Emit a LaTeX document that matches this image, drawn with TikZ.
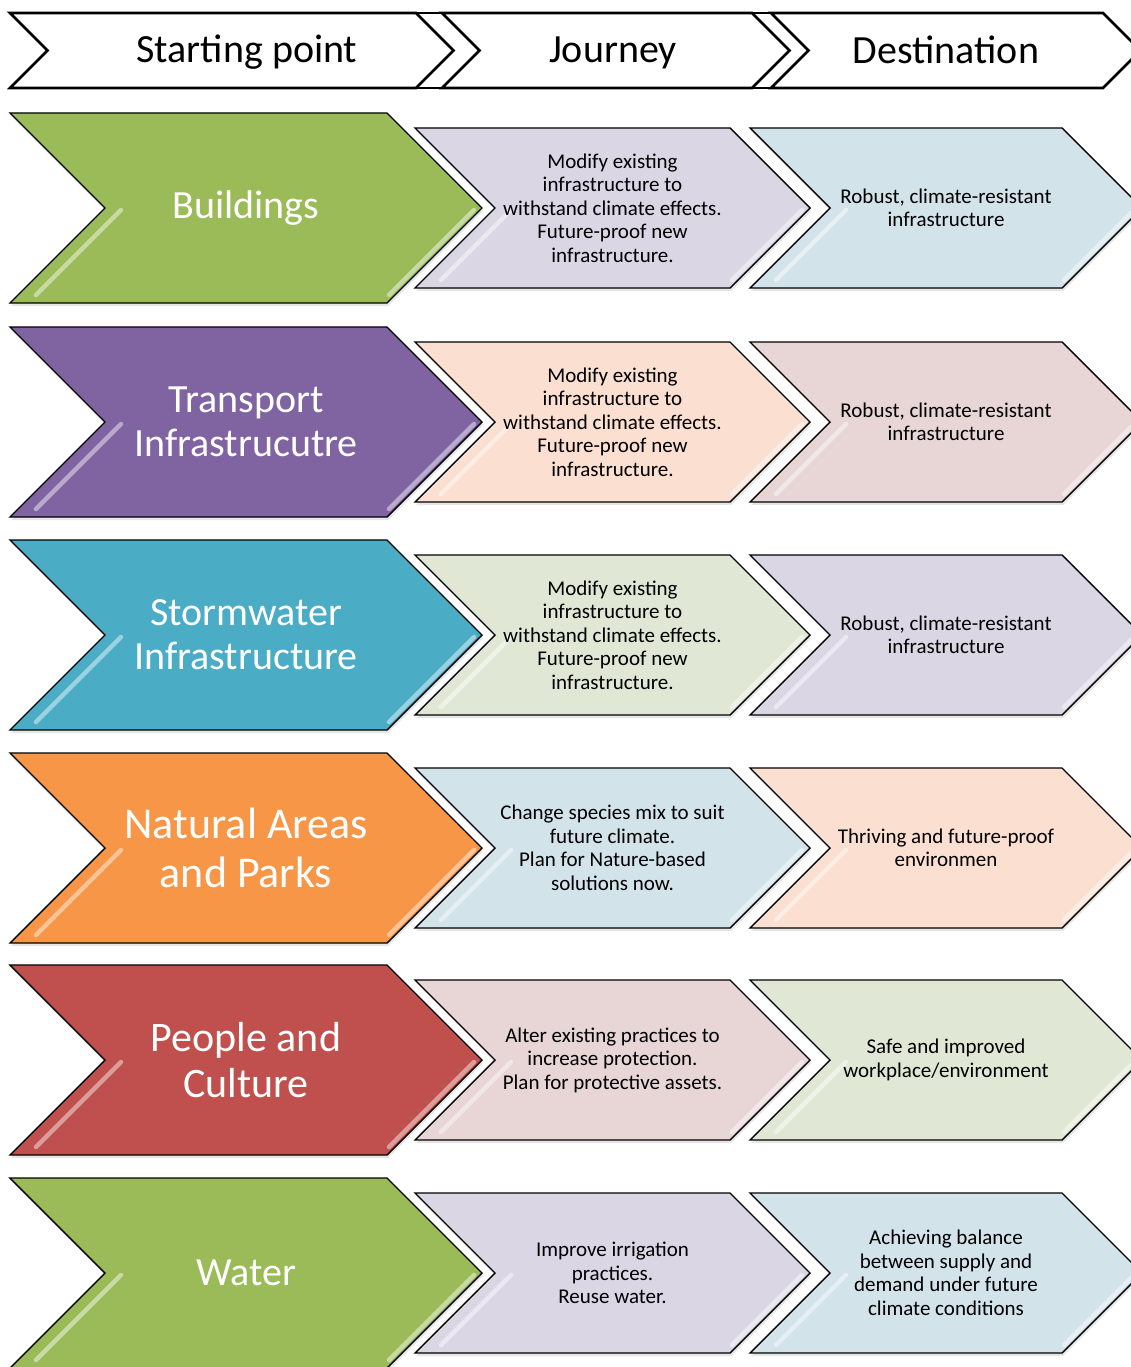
\documentclass[tikz,border=0pt]{standalone}
\usepackage{fontspec}
\setmainfont{Carlito}
\usepackage{xcolor}
\usepackage{tikz}
\usetikzlibrary{shadows}
\definecolor{leaf}{HTML}{9BBB59}
\definecolor{plum}{HTML}{8064A2}
\definecolor{aqua}{HTML}{4BACC6}
\definecolor{amber}{HTML}{F79646}
\definecolor{brick}{HTML}{C0504D}
\definecolor{lilac}{HTML}{DAD6E4}
\definecolor{sky}{HTML}{D3E3EA}
\definecolor{peach}{HTML}{FBDFD1}
\definecolor{rose}{HTML}{E8D5D6}
\definecolor{sage}{HTML}{E0E8D5}
\tikzset{
  head/.style={draw=black, line width=2.6pt, fill=white},
  chev/.style={
    draw=black, line width=1.4pt,
    drop shadow={opacity=0.2, shadow xshift=1pt, shadow yshift=-3pt}
  },
  gloss/.style={draw=white, line width=4.5pt, draw opacity=0.45, line cap=round},
  headtxt/.style={inner sep=0pt, anchor=base, font=\fontsize{40}{44}\selectfont},
  lbl/.style={inner sep=0pt, align=center, text=white,
    font=\fontsize{40}{44}\selectfont},
  txt/.style={inner sep=0pt, align=center, text=black,
    font=\fontsize{21}{23.5}\selectfont}
}
\newcommand{\Chevron}[6][]{%
  % #1 = style, #2 = name of the centre, #3 = left x, #4 = top y
  % #5 = width without the tip, #6 = height (the tip is half of it)
  \draw[#1] (#3,#4) -- ++(#5,0) -- ++(#6/2,#6/2) -- ++(-#6/2,#6/2)
    -- ++(-#5,0) -- ++(#6/2,-#6/2) -- cycle;
  \coordinate (#2) at (#3+#5/2+#6/4,#4+#6/2);
}
\newcommand{\Gloss}[4]{%
  % #1 = left x, #2 = top y, #3 = width without the tip, #4 = height
  \draw[gloss] (#1+#4/2+16,#2+#4/2+2) -- (#1+26,#2+#4-8);
  \draw[gloss] (#1+#3+#4/2-8,#2+#4/2+2) -- (#1+#3+2,#2+#4-8);
}
\newcommand{\Row}[9][]{%
  % #1 = extra label options, #2 = top y, #3 = row name
  % #4, #5, #6 = fills, #7, #8, #9 = texts
  \Chevron[chev,fill=#4]{#3-a}{10}{#2}{377}{190}
  \Chevron[chev,fill=#5]{#3-b}{415}{#2+15}{315}{160}
  \Chevron[chev,fill=#6]{#3-c}{750}{#2+15}{312}{160}
  \Gloss{10}{#2}{377}{190}
  \Gloss{415}{#2+15}{315}{160}
  \Gloss{750}{#2+15}{312}{160}
  \node[lbl,#1] (#3-start) at (#3-a) {#7};
  \node[txt] (#3-way) at (#3-b) {#8};
  \node[txt] (#3-dest) at (#3-c) {#9};
}

\begin{document}
\begin{tikzpicture}[x=1pt, y=-1pt, line join=miter]
  \useasboundingbox (0,0) rectangle (1131,1367);
  \clip (0,0) rectangle (1131,1367);

  % header
  \draw[head] (10,13) -- (1103,13) (10,88) -- (1103,88);
  \Chevron[head]{hs}{10}{13}{406}{75}
  \Chevron[head]{hj}{442}{13}{310}{75}
  \Chevron[head]{hd}{771}{13}{332}{75}
  \node[headtxt] (start) at (247,63) {Starting point};
  \node[headtxt] (journey) at (613,63) {Journey};
  \node[headtxt] (dest) at (946,64) {Destination};

  \Row{113}{bld}{leaf}{lilac}{sky}{Buildings}
    {Modify existing\\infrastructure to\\withstand climate effects.\\Future-proof new\\infrastructure.}
    {Robust, climate-resistant\\infrastructure}
  \Row{327}{trn}{plum}{peach}{rose}{Transport\\Infrastrucutre}
    {Modify existing\\infrastructure to\\withstand climate effects.\\Future-proof new\\infrastructure.}
    {Robust, climate-resistant\\infrastructure}
  \Row{540}{stw}{aqua}{sage}{lilac}{Stormwater\\Infrastructure}
    {Modify existing\\infrastructure to\\withstand climate effects.\\Future-proof new\\infrastructure.}
    {Robust, climate-resistant\\infrastructure}
  \Row[font=\fontsize{44}{49}\selectfont]{753}{nat}{amber}{sky}{peach}{Natural Areas\\and Parks}
    {Change species mix to suit\\future climate.\\Plan for Nature-based\\solutions now.}
    {Thriving and future-proof\\environmen}
  \Row[font=\fontsize{42}{46}\selectfont]{965}{ppl}{brick}{rose}{sage}{People and\\Culture}
    {Alter existing practices to\\increase protection.\\Plan for protective assets.}
    {Safe and improved\\workplace/environment}
  \Row{1178}{wtr}{leaf}{lilac}{sky}{Water}
    {Improve irrigation\\practices.\\Reuse water.}
    {Achieving balance\\between supply and\\demand under future\\climate conditions}
\end{tikzpicture}
\end{document}
